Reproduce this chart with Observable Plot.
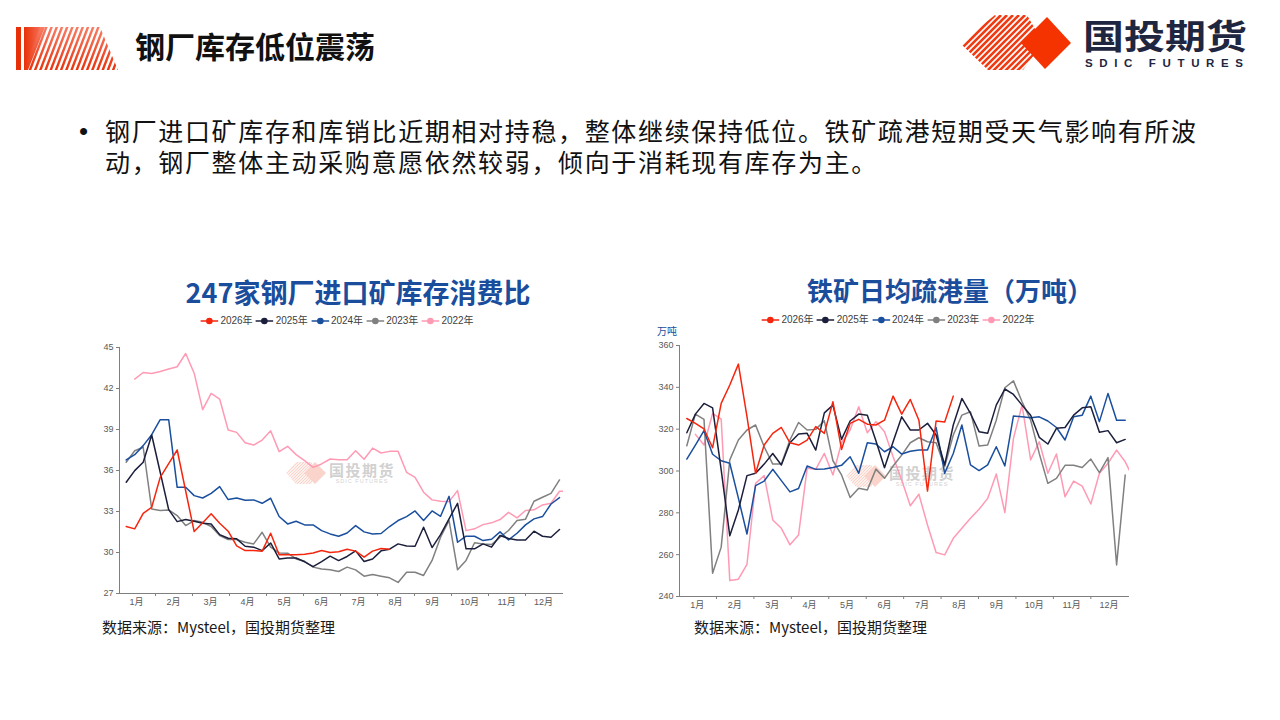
<!DOCTYPE html>
<html><head><meta charset="utf-8">
<script src="https://cdn.jsdelivr.net/npm/d3@7"></script>
<script src="https://cdn.jsdelivr.net/npm/@observablehq/plot@0.6"></script>
<style>
body{margin:0;background:#fff;font-family:"Noto Sans CJK SC","Liberation Sans",sans-serif;}
#page{position:relative;width:1280px;height:720px;overflow:hidden;background:#fff;}
.abs{position:absolute;white-space:nowrap;}
.legend{display:flex;align-items:center;gap:3px;font-family:"Liberation Sans","Noto Sans CJK SC",sans-serif;font-size:10px;color:#404040;line-height:12px;}
.legend .it{display:flex;align-items:center;gap:2px;}
.src{font-size:15px;color:#1a1a1a;line-height:18px;font-family:"Noto Sans CJK SC","Liberation Sans",sans-serif;}
.ctitle{font-weight:bold;color:#1a4d9c;line-height:30px;transform:translateX(-50%);}
.body{font-family:"Liberation Sans","Noto Sans CJK SC",sans-serif;font-size:25px;line-height:28px;height:28px;color:#111;letter-spacing:1.65px;overflow:visible;}
</style></head><body><div id="page">

<svg class="abs" style="left:0;top:0" width="130" height="80">
  <defs>
    <clipPath id="hc"><polygon points="24,27 100,27 118,70 24,70"/></clipPath>
    <linearGradient id="hg" x1="0" x2="1" y1="0" y2="0">
      <stop offset="0" stop-color="#e83008"/><stop offset="1" stop-color="#f7806a"/>
    </linearGradient>
  </defs>
  <rect x="16" y="27" width="5" height="43" fill="#e83008"/>
  <g clip-path="url(#hc)" fill="url(#hg)">
    <polygon points="24,70 24,27 45,27 28,70"/>
  </g>
  <g clip-path="url(#hc)" stroke="url(#hg)" stroke-width="2.4" id="hstripes"></g>
</svg>
<div class="abs" style="left:135px;top:28px;font-size:30px;font-weight:bold;color:#111;line-height:34px;">钢厂库存低位震荡</div>

<svg class="abs" style="left:955px;top:8px" width="300" height="66" id="logo">
  <defs>
    <clipPath id="lc"><polygon points="5,35 40,7 72,7 88,35 68,62 33,62"/></clipPath>
  </defs>
  <g clip-path="url(#lc)" stroke="#f03a12" stroke-width="2.6" id="lstripes"></g>
  <polygon points="92,9 116,35 90,61 66,35" fill="#f53300"/>
  <text x="128" y="41" font-size="34" font-weight="bold" fill="#1f2640" textLength="164" lengthAdjust="spacingAndGlyphs" font-family="Noto Sans CJK SC">国投期货</text>
  <text x="130" y="59" font-size="11.5" font-weight="bold" fill="#1f2640" textLength="158" lengthAdjust="spacing" font-family="Liberation Sans">SDIC FUTURES</text>
</svg>

<div class="abs" style="left:79px;top:116px;font-size:26px;line-height:31px;color:#111;font-family:'Liberation Sans';">•</div>
<div class="abs body" style="left:105px;top:118px;">钢厂进口矿库存和库销比近期相对持稳，整体继续保持低位。铁矿疏港短期受天气影响有所波</div>
<div class="abs body" style="left:105px;top:149px;">动，钢厂整体主动采购意愿依然较弱，倾向于消耗现有库存为主。</div>

<div class="abs ctitle" style="left:358px;top:277px;font-size:27px;">247家钢厂进口矿库存消费比</div>
<div class="abs ctitle" style="left:950px;top:275px;font-size:26px;">铁矿日均疏港量（万吨）</div>

<div class="abs legend" id="legL" style="left:337px;top:315px;transform:translateX(-50%);"></div>
<div class="abs legend" id="legR" style="left:898px;top:314px;transform:translateX(-50%);"></div>

<div class="abs" style="left:657px;top:324px;font-size:10px;color:#1a4d9c;line-height:14px;">万吨</div>

<div class="abs" id="wmL" style="left:286px;top:461px;"></div>
<div class="abs" id="wmR" style="left:846px;top:464px;"></div>

<div class="abs" id="chartL" style="left:89px;top:339px;"></div>
<div class="abs" id="chartR" style="left:647px;top:337px;"></div>

<div class="abs src" style="left:102px;top:618px;">数据来源：Mysteel，国投期货整理</div>
<div class="abs src" style="left:694px;top:618px;">数据来源：Mysteel，国投期货整理</div>

</div>
<script>
// ---------- data ----------
const seriesNames = ["2026年","2025年","2024年","2023年","2022年"];
const seriesColors = ["#f5260e","#1b1f3b","#1a4f9e","#808080","#ff9ab5"];
const monthLabels = ["1月","2月","3月","4月","5月","6月","7月","8月","9月","10月","11月","12月"];

// 247家钢厂进口矿库存消费比 (weekly, week index from 0; 2022 starts at week 1)
const ratio2026 = [31.9,31.73,32.87,33.31,35.5,36.5,37.5,34.5,31.53,32.17,32.83,32.14,31.56,30.48,30.14,30.14,30.1,31.41,29.83,29.83,29.83,29.88,29.97,30.14,30.0,30.05,30.24,30.1,29.66,30.1,30.29,30.24];
const ratio2025 = [35.14,35.99,36.6,38.6,35.87,33.14,32.26,32.41,32.29,32.14,32.09,31.31,31.04,31.0,30.46,30.39,30.14,30.7,29.53,29.6,29.6,29.32,28.97,29.34,29.73,29.41,29.71,30.12,29.34,29.53,30.12,30.24,30.63,30.48,30.46,31.85,30.36,31.31,32.46,33.6,30.27,30.27,30.63,30.39,31.24,31.02,30.92,30.92,31.56,31.19,31.12,31.68];
const ratio2024 = [36.77,37.16,37.82,38.62,39.72,39.72,34.77,34.77,34.16,33.99,34.33,34.82,33.87,33.99,33.82,33.85,33.6,33.97,32.63,32.09,32.29,32.02,32.02,31.6,31.36,31.19,31.43,31.97,31.51,31.36,31.39,31.9,32.34,32.63,33.04,32.34,33.04,32.65,34.11,30.75,31.19,31.19,30.87,30.97,31.51,30.92,31.41,32.02,32.46,32.63,33.55,34.02];
const ratio2023 = [36.6,37.45,37.7,33.19,33.07,33.11,32.7,31.97,32.34,32.21,31.9,31.24,30.95,30.95,30.75,30.63,31.48,30.39,29.97,29.95,29.53,29.36,28.93,28.8,28.73,28.61,28.93,28.73,28.27,28.39,28.27,28.15,27.81,28.56,28.56,28.32,29.42,31.12,32.34,28.73,29.42,30.71,30.63,30.58,31.12,31.61,32.34,32.44,33.75,34.04,34.33,35.31];
const ratio2022 = [42.69,43.17,43.1,43.25,43.42,43.59,44.56,43.12,40.45,41.64,41.23,38.96,38.79,38.03,37.86,38.23,38.91,37.38,37.77,37.16,36.72,36.23,36.48,36.84,36.79,36.79,37.45,36.82,37.64,37.28,37.4,37.4,35.87,35.5,34.41,33.85,33.75,33.72,34.53,31.6,31.73,32.04,32.17,32.41,32.94,32.53,33.07,33.12,33.48,33.6,34.48,34.5];
const ratioTicks = [27,30,33,36,39,42,45];

// 铁矿日均疏港量（万吨）
const port2026 = [325.1,322.8,320.1,311.1,332.3,341.1,351.1,326,298.9,312.4,318,320.8,313.5,312.4,314.8,321.2,318,333.1,310.3,322.8,324.7,322.4,322,324.3,335.8,327.2,334.2,324.3,290.4,323.9,323.4,335.8];
const port2025 = [318.3,327.2,332.3,330.2,300.5,269,281.4,297.8,298.9,303.3,308.4,302.9,313.5,317.7,318,310,327.8,331.5,315.1,323.9,327.2,326.7,314.5,301.6,314,325.9,319.6,319.6,322.8,317.2,302.9,322,334.7,327.5,318.8,318,331.5,339.2,336.6,331.5,326.7,316.1,312.9,320.4,320.8,326.7,330.2,330.7,318.5,319.3,313.5,315.1];
const port2024 = [305.7,312.4,319.3,308,304.9,303.7,287,269.9,293,295.2,300.8,295.4,290,291.6,302.4,300.8,301,301.7,302.7,306.8,298.9,313.5,312.9,309.2,311.6,308.1,309.4,310,310,320.8,298.9,308.4,322,302.9,300.2,302.9,311.6,302.4,326.3,325.9,325.5,325.9,323.9,320.8,314.8,325.9,326.7,335.8,323.6,337.1,324.3,324.3];
const port2023 = [312.1,327.2,324.7,251.1,263.6,305.3,314.8,319.6,322,311.6,303.3,303.3,314.8,323.2,319.6,319.9,324,304.9,298.1,287.3,291.7,290.9,300.9,296.5,302.4,307.6,313.5,315.9,314,313.5,302.1,317.2,326.7,328.3,311.9,312.4,324.3,339.8,343.1,333.1,324.3,308.4,294.1,296.5,302.7,302.7,301.7,305.7,299.2,306.4,255.1,298.1];
const port2022 = [317.5,312.4,327.5,324.8,247.6,248.3,255.4,294.1,297.8,276.6,272.6,264.7,269.4,301.3,300.8,308.4,298.1,313.5,319.6,330.7,318.3,323.6,318.8,306.8,295.7,283.4,288.9,274.2,261,259.9,267.8,272.6,277.4,281.7,286.9,298.6,280.1,315.6,331.5,305.3,314,298.9,308.1,287.7,295.2,292.8,284.2,298.9,303.7,310,304.4,296];
const portTicks = [240,260,280,300,320,340,360];

// ---------- helpers ----------
const monthPos = monthLabels.map((_, i) => 1.22 + i * 4.355);
const monthBounds = d3.range(11).map(i => 3.45 + i * 4.355);
function toRows(arr, name, start) { return arr.map((v, i) => ({x: i + start, y: v, s: name})); }

function makeChart(seriesArrs, starts, xDomain, yDomain, yTicks, w, h, ml) {
  const rows = seriesArrs.map((a, k) => toRows(a, seriesNames[k], starts[k]));
  const order = [4, 3, 2, 1, 0];
  return Plot.plot({
    width: w, height: h, marginLeft: ml, marginRight: 8, marginTop: 8, marginBottom: 22,
    style: {fontFamily: "Liberation Sans, Noto Sans CJK SC, sans-serif", fontSize: "9px", color: "#595959", background: "transparent", overflow: "visible"},
    x: {domain: xDomain, label: null},
    y: {domain: yDomain, label: null},
    marks: [
      Plot.axisY({ticks: yTicks, tickSize: 3, tickPadding: 3, stroke: "#7f7f7f", fontSize: 9, label: null}),
      Plot.axisX({ticks: monthPos, tickSize: 0, tickPadding: 5, fontSize: 9, label: null, tickFormat: d => monthLabels[monthPos.indexOf(d)]}),
      Plot.axisX({ticks: monthBounds, tickSize: 3, stroke: "#7f7f7f", label: null, tickFormat: () => ""}),
      Plot.ruleX([xDomain[0]], {stroke: "#7f7f7f"}),
      Plot.ruleY([yDomain[0]], {stroke: "#7f7f7f"}),
      ...order.map(k => Plot.line(rows[k], {x: "x", y: "y", stroke: seriesColors[k], strokeWidth: 1.5, clip: true}))
    ]
  });
}

document.getElementById("chartL").appendChild(
  makeChart([ratio2026, ratio2025, ratio2024, ratio2023, ratio2022], [0,0,0,0,1],
            [-0.79, 51.47], [27, 45], ratioTicks, 482, 276, 30));
document.getElementById("chartR").appendChild(
  makeChart([port2026, port2025, port2024, port2023, port2022], [0,0,0,0,1],
            [-0.85, 51.5], [240, 360], portTicks, 490, 281, 32));

// legends
function legend(el) {
  seriesNames.forEach((n, k) => {
    const it = document.createElement("div");
    it.className = "it";
    it.innerHTML = `<svg width="18" height="8"><line x1="0" y1="4" x2="18" y2="4" stroke="${seriesColors[k]}" stroke-width="1.5"/><circle cx="9" cy="4" r="3.3" fill="${seriesColors[k]}"/></svg><span>${n}</span>`;
    el.appendChild(it);
  });
}
legend(document.getElementById("legL"));
legend(document.getElementById("legR"));

// header stripes
const hs = document.getElementById("hstripes");
for (let x = 36; x < 130; x += 5.2) {
  const l = document.createElementNS("http://www.w3.org/2000/svg", "line");
  l.setAttribute("x1", x - 12); l.setAttribute("y1", 72); l.setAttribute("x2", x + 6); l.setAttribute("y2", 25);
  hs.appendChild(l);
}
const ls = document.getElementById("lstripes");
for (let t = -20; t < 110; t += 6) {
  const l = document.createElementNS("http://www.w3.org/2000/svg", "line");
  l.setAttribute("x1", t); l.setAttribute("y1", 67); l.setAttribute("x2", t + 60); l.setAttribute("y2", 7);
  ls.appendChild(l);
}

// watermarks
function watermark(el) {
  el.innerHTML = `<div style="display:flex;align-items:center;gap:3px;opacity:0.45">
    <svg width="40" height="24"><defs><clipPath id="wc${el.id}"><polygon points="0,12 10,1 26,1 26,23 10,23"/></clipPath></defs>
    <g clip-path="url(#wc${el.id})" stroke="#f4a08c" stroke-width="1.2">${d3.range(-20, 30, 3).map(t => `<line x1="${t}" y1="24" x2="${t + 24}" y2="0"/>`).join("")}</g>
    <polygon points="29,1 40,12 29,23 18,12" fill="#f4a08c"/></svg>
    <div style="display:flex;flex-direction:column;align-items:center;">
      <div style="font-size:15px;line-height:16px;font-weight:bold;color:#9a9a9a;letter-spacing:1.5px">国投期货</div>
      <div style="font-size:5.5px;line-height:7px;color:#9a9a9a;letter-spacing:1px;font-family:'Liberation Sans'">SDIC FUTURES</div>
    </div></div>`;
}
watermark(document.getElementById("wmL"));
watermark(document.getElementById("wmR"));
</script>
</body></html>
